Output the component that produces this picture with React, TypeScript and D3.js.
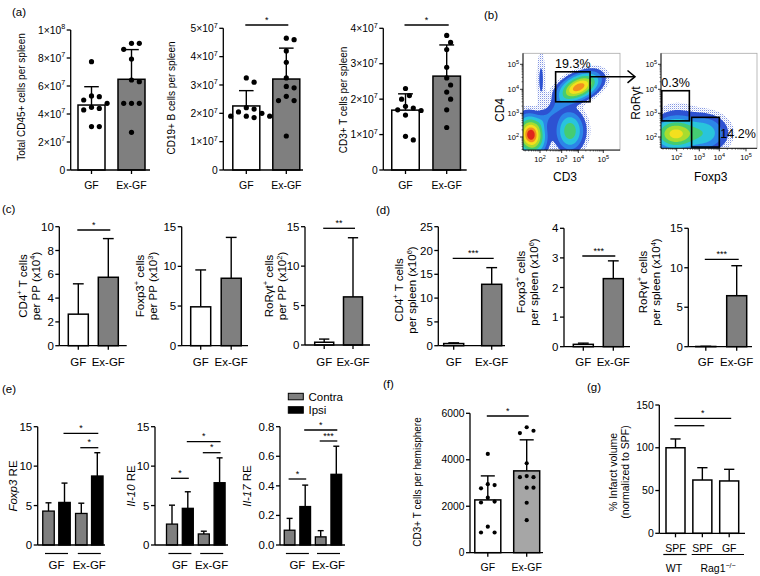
import React from "react";
import * as d3 from "d3";

const FONT = "'Liberation Sans', Arial, Helvetica, sans-serif";
const GRAY = "#7f7f7f";
const LIGHTGRAY = "#a6a6a6";

// ================= DATA =================
const cats2 = ["GF", "Ex-GF"];

// (a) spleen counts
const aTotalMean = [4.64e7, 6.48e7];
const aTotalSD = [1.31e7, 2.12e7];
const aTotalGF = [7.74e7, 5.24e7, 5.29e7, 5.0e7, 4.76e7, 4.48e7, 4.29e7, 4.4e7, 3.1e7, 3.1e7];
const aTotalEx = [9.05e7, 9.05e7, 8.62e7, 7.93e7, 6.43e7, 6.31e7, 4.76e7, 4.76e7, 4.76e7, 2.69e7];
const aTicks1 = [0, 2e7, 4e7, 6e7, 8e7, 1e8];

const aBMean = [2.26e7, 3.21e7];
const aBSD = [0.54e7, 1.09e7];
const aBGF = [3.1e7, 3.25e7, 2.2e7, 2.15e7, 2.0e7, 1.9e7, 1.9e7, 1.85e7, 1.9e7, 2.05e7];
const aBEx = [4.6e7, 4.65e7, 4.2e7, 3.8e7, 3.25e7, 2.9e7, 2.95e7, 2.6e7, 2.45e7, 2.45e7, 1.2e7];
const aTicks2 = [0, 1e7, 2e7, 3e7, 4e7, 5e7];

const aTMean = [1.69e7, 2.65e7];
const aTSD = [0.46e7, 0.88e7];
const aTGF = [2.3e7, 2.1e7, 2.0e7, 1.8e7, 1.75e7, 1.68e7, 1.7e7, 1.55e7, 0.85e7, 0.95e7];
const aTEx = [3.8e7, 3.6e7, 3.4e7, 2.9e7, 2.6e7, 2.4e7, 2.2e7, 2.0e7, 1.7e7, 1.2e7];
const aTicks3 = [0, 1e7, 2e7, 3e7, 4e7];

// (b) flow cytometry populations (log10 units) and gates
const flowCD3CD4 = [
  { x: 1.68, y: 2.08, sx: 0.33, sy: 0.45, angle: -10, w: 1.0 },
  { x: 3.5, y: 2.25, sx: 0.34, sy: 0.48, angle: 0, w: 0.42 },
  { x: 4.03, y: 4.09, sx: 0.52, sy: 0.28, angle: -25, w: 0.88 },
  { x: 2.55, y: 3.05, sx: 1.1, sy: 0.2, angle: -45, w: 0.1 },
  { x: 2.05, y: 4.4, sx: 0.13, sy: 0.8, angle: 0, w: 0.06 },
  { x: 2.8, y: 2.4, sx: 1.3, sy: 0.7, angle: 0, w: 0.012 },
];
const flowFoxRor = [
  { x: 1.935, y: 2.13, sx: 0.52, sy: 0.38, angle: 0, w: 0.68 },
  { x: 3.24, y: 2.17, sx: 0.55, sy: 0.45, angle: 0, w: 0.26 },
  { x: 2.0, y: 3.05, sx: 0.6, sy: 0.4, angle: 0, w: 0.03 },
  { x: 2.6, y: 2.1, sx: 1.0, sy: 0.5, angle: 0, w: 0.03 },
];
const gateCD4T = { x0: 2.72, x1: 4.47, y0: 3.48, y1: 4.7, label: "19.3%" };
const gateRor = { x0: 1.43, x1: 2.56, y0: 2.68, y1: 3.94, label: "0.3%" };
const gateFox = { x0: 2.66, x1: 4.0, y0: 1.6, y1: 2.83, label: "14.2%" };
const logTicks = [2, 3, 4, 5];

// (c) Peyer's patches
const cCD4Mean = [2.65, 5.75];
const cCD4SD = [2.55, 3.25];
const cFoxMean = [4.9, 8.5];
const cFoxSD = [4.65, 5.15];
const cRorMean = [0.35, 6.1];
const cRorSD = [0.4, 7.5];

// (d) spleen
const dCD4Mean = [0.45, 12.9];
const dCD4SD = [0.15, 3.5];
const dFoxMean = [0.08, 2.3];
const dFoxSD = [0.04, 0.6];
const dRorMean = [0.03, 6.46];
const dRorSD = [0.02, 3.8];

// (e) RE, Contra / Ipsi
const eSeries = ["Contra", "Ipsi"];
const eFoxContra = [4.3, 4.0];
const eFoxContraSD = [1.05, 1.3];
const eFoxIpsi = [5.4, 8.75];
const eFoxIpsiSD = [2.45, 2.95];
const eIl10Contra = [2.65, 1.4];
const eIl10ContraSD = [2.4, 0.35];
const eIl10Ipsi = [4.65, 7.9];
const eIl10IpsiSD = [2.1, 3.15];
const eIl17Contra = [0.1, 0.055];
const eIl17ContraSD = [0.08, 0.042];
const eIl17Ipsi = [0.26, 0.478];
const eIl17IpsiSD = [0.145, 0.19];

// (f) CD3+ T cells per hemisphere
const fMean = [2272, 3522];
const fSD = [1034, 1336];
const fGF = [4250, 2950, 2770, 2910, 2370, 2160, 2200, 1120, 870, 870];
const fEx = [5250, 5150, 5400, 3850, 3250, 3300, 3250, 2800, 2800, 2150, 1400];

// (g) infarct volume
const gCats = ["SPF", "SPF", "GF"];
const gMean = [100, 62.3, 61.2];
const gSD = [10.3, 14.4, 13.6];

// ================= HELPERS =================
function sciTick(v: number, fs: number) {
  if (v === 0) return <tspan>0</tspan>;
  const k = Math.floor(Math.log10(v) + 1e-9);
  const m = Math.round(v / Math.pow(10, k));
  return (
    <>
      <tspan>{`${m}×10`}</tspan>
      <tspan dy={-fs * 0.42} fontSize={fs * 0.7}>{k}</tspan>
    </>
  );
}

function swarm(vals: number[], y: (v: number) => number, cx: number, r: number, gap: number) {
  const D = 2 * r + gap;
  const placed: { x: number; y: number }[] = [];
  const order = vals.map((v) => ({ v, py: y(v) })).sort((a, b) => a.py - b.py);
  for (const p of order) {
    for (let k = 0; k < 60; k++) {
      const off = k === 0 ? 0 : (k % 2 === 1 ? 1 : -1) * Math.ceil(k / 2) * (D / 2);
      const px = cx + off;
      if (placed.every((q) => Math.hypot(q.x - px, q.y - p.py) >= D - 0.01)) {
        placed.push({ x: px, y: p.py });
        break;
      }
    }
  }
  return placed;
}

type Sig = { i: number; j: number; y: number; label: string };

function YLabel({ x, y, fs, lines }: { x: number; y: number; fs: number; lines: React.ReactNode[] }) {
  return (
    <>
      {lines.map((l, k) => (
        <text key={k} transform={`translate(${x + k * fs * 1.15},${y}) rotate(-90)`} textAnchor="middle" fontSize={fs}>
          {l}
        </text>
      ))}
    </>
  );
}

function BarChart(props: {
  cats: string[];
  means: number[];
  sds: number[];
  fills: string[];
  dots?: number[][];
  r?: number;
  axisX: number;
  axisEnd: number;
  y0: number;
  yTop: number;
  yMax: number;
  ticks: number[];
  fmt: (v: number, fs: number) => React.ReactNode;
  tickFs: number;
  c0: number;
  c1: number;
  barW: number;
  catY: number;
  catFs: number;
  sig?: Sig[];
  sigFs?: number;
  showCats?: boolean;
}) {
  const p = props;
  const y = d3.scaleLinear().domain([0, p.yMax]).range([p.y0, p.yTop]);
  const x = d3.scalePoint<number>().domain(p.cats.map((_, i) => i)).range([p.c0, p.c1]);
  const r = p.r ?? 2.5;
  return (
    <g>
      {p.means.map((m, i) => {
        const cx = x(i)!;
        const top = y(m);
        const et = y(m + p.sds[i]);
        return (
          <g key={i}>
            <line x1={cx} x2={cx} y1={et} y2={top} stroke="#000" strokeWidth={1.4} />
            <line x1={cx - p.barW * 0.27} x2={cx + p.barW * 0.27} y1={et} y2={et} stroke="#000" strokeWidth={1.4} />
            <rect x={cx - p.barW / 2} y={top} width={p.barW} height={p.y0 - top} fill={p.fills[i]} stroke="#000" strokeWidth={1.5} />
          </g>
        );
      })}
      {p.dots &&
        p.dots.map((ds, i) =>
          swarm(ds, y, x(i)!, r, 2.6).map((pt, k) => <circle key={`${i}-${k}`} cx={pt.x} cy={pt.y} r={r} fill="#000" />)
        )}
      <line x1={p.axisX} x2={p.axisX} y1={p.y0} y2={y(p.yMax)} stroke="#000" strokeWidth={1.3} />
      <line x1={p.axisX} x2={p.axisEnd} y1={p.y0} y2={p.y0} stroke="#000" strokeWidth={1.3} />
      {p.ticks.map((t) => (
        <g key={t}>
          <line x1={p.axisX - 4} x2={p.axisX} y1={y(t)} y2={y(t)} stroke="#000" strokeWidth={1.3} />
          <text x={p.axisX - 5.5} y={y(t)} dy="0.35em" textAnchor="end" fontSize={p.tickFs}>
            {p.fmt(t, p.tickFs)}
          </text>
        </g>
      ))}
      {p.cats.map((c, i) => (
        <g key={i}>
          <line x1={x(i)!} x2={x(i)!} y1={p.y0} y2={p.y0 + 4} stroke="#000" strokeWidth={1.3} />
          {p.showCats !== false && (
            <text x={x(i)!} y={p.catY} textAnchor="middle" fontSize={p.catFs}>
              {c}
            </text>
          )}
        </g>
      ))}
      {(p.sig || []).map((s, k) => {
        const xa = x(s.i)! + (s.i === 0 ? -1 : 0);
        const xb = x(s.j)! + 2;
        return (
          <g key={k}>
            <line x1={xa} x2={xb} y1={s.y} y2={s.y} stroke="#000" strokeWidth={1.3} />
            <text x={(xa + xb) / 2} y={s.y - 2.5} textAnchor="middle" fontSize={p.sigFs ?? 9}>
              {s.label}
            </text>
          </g>
        );
      })}
    </g>
  );
}

function GroupedChart(props: {
  contra: number[];
  contraSD: number[];
  ipsi: number[];
  ipsiSD: number[];
  axisX: number;
  axisEnd: number;
  y0: number;
  yTop: number;
  yMax: number;
  ticks: number[];
  fmt: (v: number) => string;
  g0: number;
  g1: number;
  off: number;
  barW: number;
  sig: { a: [number, number]; b: [number, number]; y: number; label: string }[];
}) {
  const p = props;
  const y = d3.scaleLinear().domain([0, p.yMax]).range([p.y0, p.yTop]);
  const gx = d3.scalePoint<string>().domain(cats2).range([p.g0, p.g1]);
  const sx = d3.scalePoint<string>().domain(eSeries).range([-p.off, p.off]);
  const series = [
    { name: eSeries[0], vals: p.contra, sds: p.contraSD, fill: GRAY },
    { name: eSeries[1], vals: p.ipsi, sds: p.ipsiSD, fill: "#000" },
  ];
  const bx = (g: number, s: number) => gx(cats2[g])! + sx(eSeries[s])!;
  return (
    <g>
      {series.map((s, si) =>
        s.vals.map((v, gi) => {
          const cx = bx(gi, si);
          const top = y(v);
          const et = y(v + s.sds[gi]);
          return (
            <g key={`${si}-${gi}`}>
              <line x1={cx} x2={cx} y1={et} y2={top} stroke="#000" strokeWidth={1.4} />
              <line x1={cx - 3} x2={cx + 3} y1={et} y2={et} stroke="#000" strokeWidth={1.4} />
              <rect x={cx - p.barW / 2} y={top} width={p.barW} height={p.y0 - top} fill={s.fill} stroke="#000" strokeWidth={1.3} />
            </g>
          );
        })
      )}
      <line x1={p.axisX} x2={p.axisX} y1={p.y0} y2={y(p.yMax)} stroke="#000" strokeWidth={1.3} />
      <line x1={p.axisX} x2={p.axisEnd} y1={p.y0} y2={p.y0} stroke="#000" strokeWidth={1.3} />
      {p.ticks.map((t) => (
        <g key={t}>
          <line x1={p.axisX - 4} x2={p.axisX} y1={y(t)} y2={y(t)} stroke="#000" strokeWidth={1.3} />
          <text x={p.axisX - 5.5} y={y(t)} dy="0.35em" textAnchor="end" fontSize={11.5}>
            {p.fmt(t)}
          </text>
        </g>
      ))}
      {cats2.map((c) => (
        <g key={c}>
          <line x1={gx(c)! - 11.5} x2={gx(c)! + 11.5} y1={p.y0 + 8.5} y2={p.y0 + 8.5} stroke="#000" strokeWidth={1.2} />
          <text x={gx(c)!} y={p.y0 + 23.5} textAnchor="middle" fontSize={11.5}>
            {c}
          </text>
        </g>
      ))}
      {p.sig.map((s, k) => {
        const xa = bx(s.a[0], s.a[1]) - 1;
        const xb = bx(s.b[0], s.b[1]) + 1;
        return (
          <g key={k}>
            <line x1={xa} x2={xb} y1={s.y} y2={s.y} stroke="#000" strokeWidth={1.3} />
            <text x={(xa + xb) / 2} y={s.y - 2.5} textAnchor="middle" fontSize={9}>
              {s.label}
            </text>
          </g>
        );
      })}
    </g>
  );
}

type Cluster = { x: number; y: number; sx: number; sy: number; angle: number; w: number };
const FLOW_LEVELS = [0.02, 0.05, 0.11, 0.2, 0.33, 0.48, 0.64, 0.8, 0.93];
const FLOW_COLORS = ["#3b5ad6", "#2d52d2", "#2c86e8", "#29c4dc", "#45cc72", "#a9dc2e", "#f4e01e", "#f2901e", "#e0261a"];

function FlowPlot(props: {
  id: string;
  left: number;
  top: number;
  right: number;
  bottom: number;
  xDom: number[];
  xRange: number[];
  yDom: number[];
  yRange: number[];
  clusters: Cluster[];
  gates: { x0: number; x1: number; y0: number; y1: number }[];
}) {
  const p = props;
  const xs = d3.scaleLinear().domain(p.xDom).range(p.xRange);
  const ys = d3.scaleLinear().domain(p.yDom).range(p.yRange);
  const nx = Math.round(p.right - p.left);
  const ny = Math.round(p.bottom - p.top);
  const PX = 23;
  const cs = p.clusters.map((c) => ({
    cx: xs(c.x),
    cy: ys(c.y),
    sx: c.sx * PX,
    sy: c.sy * PX,
    ca: Math.cos((c.angle * Math.PI) / 180),
    sa: Math.sin((c.angle * Math.PI) / 180),
    w: c.w,
  }));
  const vals = new Float64Array(nx * ny);
  for (let j = 0; j < ny; j++) {
    for (let i = 0; i < nx; i++) {
      const px = p.left + i + 0.5;
      const py = p.top + j + 0.5;
      let s = 0;
      for (const c of cs) {
        const dx = px - c.cx;
        const dy = py - c.cy;
        const u = dx * c.ca + dy * c.sa;
        const v = -dx * c.sa + dy * c.ca;
        s += c.w * Math.exp(-0.5 * ((u * u) / (c.sx * c.sx) + (v * v) / (c.sy * c.sy)));
      }
      vals[j * nx + i] = s;
    }
  }
  const contours = d3.contours().size([nx, ny]).thresholds(FLOW_LEVELS)(Array.from(vals));
  const path = d3.geoPath(d3.geoIdentity().translate([p.left, p.top]) as any);
  const minor: number[] = [];
  for (let d = Math.ceil(p.xDom[0]) - 1; d < 5; d++) for (let m = 2; m < 10; m++) minor.push(d + Math.log10(m));
  const minorY: number[] = [];
  for (let d = Math.ceil(p.yDom[0]) - 1; d < 5; d++) for (let m = 2; m < 10; m++) minorY.push(d + Math.log10(m));
  return (
    <g>
      <defs>
        <clipPath id={`clip-${p.id}`}>
          <rect x={p.left} y={p.top} width={nx} height={ny} />
        </clipPath>
        <pattern id={`speck-${p.id}`} width={2} height={2} patternUnits="userSpaceOnUse">
          <rect x={0} y={0} width={1} height={1} fill="#2f4fd0" />
          <rect x={1} y={1} width={0.6} height={0.6} fill="#6f88e4" />
        </pattern>
      </defs>
      <rect x={p.left} y={p.top} width={nx} height={ny} fill="#fff" stroke="#aaa" strokeWidth={0.8} />
      <g clipPath={`url(#clip-${p.id})`}>
        {contours.map((c, k) => (
          <path key={k} d={path(c as any) || ""} fill={k === 0 ? `url(#speck-${p.id})` : FLOW_COLORS[k]} fillOpacity={k === 0 ? 0.6 : 1} />
        ))}
      </g>
      {p.gates.map((g, k) => (
        <rect key={k} x={xs(g.x0)} y={ys(g.y1)} width={xs(g.x1) - xs(g.x0)} height={ys(g.y0) - ys(g.y1)} fill="none" stroke="#000" strokeWidth={1.6} />
      ))}
      <line x1={p.left} x2={p.left} y1={p.top} y2={p.bottom} stroke="#000" strokeWidth={0.9} />
      <line x1={p.left} x2={p.right} y1={p.bottom} y2={p.bottom} stroke="#000" strokeWidth={0.9} />
      {minor
        .filter((v) => xs(v) > p.left && xs(v) < p.right)
        .map((v, k) => (
          <line key={`mx${k}`} x1={xs(v)} x2={xs(v)} y1={p.bottom} y2={p.bottom + 1.5} stroke="#000" strokeWidth={0.5} />
        ))}
      {minorY
        .filter((v) => ys(v) > p.top && ys(v) < p.bottom)
        .map((v, k) => (
          <line key={`my${k}`} x1={p.left - 1.5} x2={p.left} y1={ys(v)} y2={ys(v)} stroke="#000" strokeWidth={0.5} />
        ))}
      {logTicks.map((t) => (
        <g key={t}>
          <line x1={xs(t)} x2={xs(t)} y1={p.bottom} y2={p.bottom + 3} stroke="#000" strokeWidth={0.8} />
          <text x={xs(t)} y={p.bottom + 12} textAnchor="middle" fontSize={7.5}>
            10<tspan dy={-3} fontSize={5.5}>{t}</tspan>
          </text>
          <line x1={p.left - 3} x2={p.left} y1={ys(t)} y2={ys(t)} stroke="#000" strokeWidth={0.8} />
          <text x={p.left - 4} y={ys(t) + 2.5} textAnchor="end" fontSize={7.5}>
            10<tspan dy={-3} fontSize={5.5}>{t}</tspan>
          </text>
        </g>
      ))}
    </g>
  );
}

const sup = (s: string, fs: number) => (
  <tspan dy={-fs * 0.4} fontSize={fs * 0.65}>
    {s}
  </tspan>
);
const down = (s: string, fs: number) => <tspan dy={fs * 0.4}>{s}</tspan>;

export default function App() {
  const leftFlow = {
    xDom: [1.4, 2, 3, 4, 5, 5.6],
    xRange: [523, 540, 561.7, 578.3, 603.3, 620],
    yDom: [1.45, 2, 3, 4, 5, 5.45],
    yRange: [150, 137, 113.3, 89.3, 64.3, 53.3],
  };
  const rightFlow = {
    xDom: [1.4, 2, 3, 4, 5, 5.4],
    xRange: [661, 676.7, 699.3, 719.3, 746, 757],
    yDom: [1.55, 2, 3, 4, 5, 5.45],
    yRange: [148.3, 137, 113.3, 89.3, 64.3, 53.3],
  };
  const lxs = d3.scaleLinear().domain(leftFlow.xDom).range(leftFlow.xRange);
  const lys = d3.scaleLinear().domain(leftFlow.yDom).range(leftFlow.yRange);
  const rxs = d3.scaleLinear().domain(rightFlow.xDom).range(rightFlow.xRange);
  const rys = d3.scaleLinear().domain(rightFlow.yDom).range(rightFlow.yRange);
  const fmtInt = (v: number) => <tspan>{d3.format("d")(v)}</tspan>;
  const fs2 = 11.5;

  return (
    <svg width={760} height={576} style={{ position: "absolute", left: 0, top: 0, background: "#fff" }} fontFamily={FONT}>
      <rect x={0} y={0} width={760} height={576} fill="#fff" />
      <g fontSize={11.5}>
        <text x={12} y={16}>(a)</text>
        <text x={484} y={19}>(b)</text>
        <text x={2} y={213}>(c)</text>
        <text x={376} y={214}>(d)</text>
        <text x={2} y={393}>(e)</text>
        <text x={383} y={388}>(f)</text>
        <text x={587} y={391}>(g)</text>
      </g>

      {/* ===== (a) ===== */}
      <BarChart cats={cats2} means={aTotalMean} sds={aTotalSD} fills={["#fff", GRAY]} dots={[aTotalGF, aTotalEx]} r={2.6}
        axisX={70.7} axisEnd={150} y0={170} yTop={30} yMax={1e8} ticks={aTicks1} fmt={sciTick} tickFs={10.3}
        c0={91.5} c1={131.5} barW={27} catY={189} catFs={10.5} />
      <YLabel x={25} y={97} fs={10} lines={["Total CD45+ cells per spleen"]} />

      <BarChart cats={cats2} means={aBMean} sds={aBSD} fills={["#fff", GRAY]} dots={[aBGF, aBEx]} r={2.6}
        axisX={223.3} axisEnd={303} y0={170} yTop={28.3} yMax={5e7} ticks={aTicks2} fmt={sciTick} tickFs={10.3}
        c0={246.3} c1={286.3} barW={27} catY={189} catFs={10.5}
        sig={[{ i: 0, j: 1, y: 25, label: "*" }]} />
      <YLabel x={175} y={98} fs={10} lines={["CD19+ B cells per spleen"]} />

      <BarChart cats={cats2} means={aTMean} sds={aTSD} fills={["#fff", GRAY]} dots={[aTGF, aTEx]} r={2.6}
        axisX={383.3} axisEnd={466.7} y0={170} yTop={28.3} yMax={4e7} ticks={aTicks3} fmt={sciTick} tickFs={10.3}
        c0={405.5} c1={446.7} barW={27.5} catY={189} catFs={10.5}
        sig={[{ i: 0, j: 1, y: 25, label: "*" }]} />
      <YLabel x={347} y={100} fs={10} lines={["CD3+ T cells per spleen"]} />

      {/* ===== (b) ===== */}
      <FlowPlot id="l" left={523} top={53.3} right={620} bottom={150} {...leftFlow} clusters={flowCD3CD4} gates={[gateCD4T]} />
      <text x={(lxs(gateCD4T.x0) + lxs(gateCD4T.x1)) / 2} y={lys(gateCD4T.y1) - 4} textAnchor="middle" fontSize={12.5}>
        {gateCD4T.label}
      </text>
      <line x1={lxs(gateCD4T.x1)} x2={634} y1={76.7} y2={76.7} stroke="#000" strokeWidth={1.5} />
      <path d="M627.5,70.5 L635,76.7 L627.5,82.9" fill="none" stroke="#000" strokeWidth={1.5} />
      <text x={565} y={181} textAnchor="middle" fontSize={12}>CD3</text>
      <text transform="translate(504,110) rotate(-90)" textAnchor="middle" fontSize={12}>CD4</text>

      <FlowPlot id="r" left={661} top={53.3} right={757} bottom={148.3} {...rightFlow} clusters={flowFoxRor} gates={[gateRor, gateFox]} />
      <text x={rxs(gateRor.x0) - 0.5} y={rys(gateRor.y1) - 4} fontSize={12.5}>{gateRor.label}</text>
      <text x={rxs(gateFox.x1) + 1} y={137.5} fontSize={12.5}>{gateFox.label}</text>
      <text x={710.7} y={181} textAnchor="middle" fontSize={12}>Foxp3</text>
      <text transform="translate(640,103) rotate(-90)" textAnchor="middle" fontSize={12}>RoRγt</text>

      {/* ===== (c) ===== */}
      <BarChart cats={cats2} means={cCD4Mean} sds={cCD4SD} fills={["#fff", GRAY]}
        axisX={59.3} axisEnd={126.7} y0={345.7} yTop={226.7} yMax={10} ticks={[0, 2, 4, 6, 8, 10]} fmt={fmtInt} tickFs={fs2}
        c0={78.3} c1={108.3} barW={20} catY={366} catFs={fs2}
        sig={[{ i: 0, j: 1, y: 230, label: "*" }]} />
      <YLabel x={26.5} y={286} fs={fs2} lines={[<>CD4{sup("+", fs2)}{down(" T cells", fs2)}</>, <>per PP (x10{sup("4", fs2)}{down(")", fs2)}</>]} />

      <BarChart cats={cats2} means={cFoxMean} sds={cFoxSD} fills={["#fff", GRAY]}
        axisX={181.7} axisEnd={248} y0={345.7} yTop={226.7} yMax={15} ticks={[0, 5, 10, 15]} fmt={fmtInt} tickFs={fs2}
        c0={200.7} c1={231.2} barW={20} catY={366} catFs={fs2} />
      <YLabel x={144} y={286} fs={fs2} lines={[<>Foxp3{sup("+", fs2)}{down(" cells", fs2)}</>, <>per PP (x10{sup("3", fs2)}{down(")", fs2)}</>]} />

      <BarChart cats={cats2} means={cRorMean} sds={cRorSD} fills={["#fff", GRAY]}
        axisX={305} axisEnd={370} y0={345} yTop={226.7} yMax={15} ticks={[0, 5, 10, 15]} fmt={fmtInt} tickFs={fs2}
        c0={324.2} c1={353} barW={19} catY={366} catFs={fs2}
        sig={[{ i: 0, j: 1, y: 228.3, label: "**" }]} />
      <YLabel x={273} y={286} fs={fs2} lines={[<>RoRγt{sup("+", fs2)}{down(" cells", fs2)}</>, <>per PP (x10{sup("2", fs2)}{down(")", fs2)}</>]} />

      {/* ===== (d) ===== */}
      <BarChart cats={cats2} means={dCD4Mean} sds={dCD4SD} fills={["#fff", GRAY]}
        axisX={438.3} axisEnd={505} y0={345.7} yTop={226.7} yMax={25} ticks={[0, 5, 10, 15, 20, 25]} fmt={fmtInt} tickFs={fs2}
        c0={453.7} c1={491.7} barW={20} catY={366} catFs={fs2}
        sig={[{ i: 0, j: 1, y: 258.3, label: "***" }]} />
      <YLabel x={403} y={290} fs={fs2} lines={[<>CD4{sup("+", fs2)}{down(" T cells", fs2)}</>, <>per spleen (x10{sup("6", fs2)}{down(")", fs2)}</>]} />

      <BarChart cats={cats2} means={dFoxMean} sds={dFoxSD} fills={["#fff", GRAY]}
        axisX={564} axisEnd={630} y0={346.7} yTop={228.3} yMax={4} ticks={[0, 1, 2, 3, 4]} fmt={fmtInt} tickFs={fs2}
        c0={583.3} c1={613.3} barW={20} catY={366} catFs={fs2}
        sig={[{ i: 0, j: 1, y: 256, label: "***" }]} />
      <YLabel x={525} y={282} fs={fs2} lines={[<>Foxp3{sup("+", fs2)}{down(" cells", fs2)}</>, <>per spleen (x10{sup("6", fs2)}{down(")", fs2)}</>]} />

      <BarChart cats={cats2} means={dRorMean} sds={dRorSD} fills={["#fff", GRAY]}
        axisX={688.3} axisEnd={752} y0={346.7} yTop={228.3} yMax={15} ticks={[0, 5, 10, 15]} fmt={fmtInt} tickFs={fs2}
        c0={705.8} c1={736.7} barW={20} catY={366} catFs={fs2}
        sig={[{ i: 0, j: 1, y: 259.3, label: "***" }]} />
      <YLabel x={647} y={282} fs={fs2} lines={[<>RoRγt{sup("+", fs2)}{down(" cells", fs2)}</>, <>per spleen (x10{sup("4", fs2)}{down(")", fs2)}</>]} />

      {/* ===== (e) ===== */}
      <g>
        <rect x={288.3} y={393.3} width={15} height={6.5} fill={GRAY} stroke="#000" strokeWidth={1} />
        <text x={308.5} y={400.5} fontSize={fs2}>{eSeries[0]}</text>
        <rect x={288.3} y={406.7} width={15} height={6.5} fill="#000" stroke="#000" strokeWidth={1} />
        <text x={308.5} y={414} fontSize={fs2}>{eSeries[1]}</text>
      </g>
      <GroupedChart contra={eFoxContra} contraSD={eFoxContraSD} ipsi={eFoxIpsi} ipsiSD={eFoxIpsiSD}
        axisX={37.7} axisEnd={105} y0={545} yTop={426.7} yMax={15} ticks={[0, 5, 10, 15]} fmt={d3.format("d")}
        g0={56.5} g1={89.3} off={8} barW={11.5}
        sig={[{ a: [0, 1], b: [1, 1], y: 433.3, label: "*" }, { a: [1, 0], b: [1, 1], y: 447.7, label: "*" }]} />
      <text transform="translate(17,486) rotate(-90)" textAnchor="middle" fontSize={fs2}>
        <tspan fontStyle="italic">Foxp3</tspan> RE
      </text>

      <GroupedChart contra={eIl10Contra} contraSD={eIl10ContraSD} ipsi={eIl10Ipsi} ipsiSD={eIl10IpsiSD}
        axisX={155} axisEnd={228} y0={545} yTop={426.7} yMax={15} ticks={[0, 5, 10, 15]} fmt={d3.format("d")}
        g0={179.9} g1={211.7} off={7.9} barW={11}
        sig={[{ a: [0, 0], b: [0, 1], y: 478.3, label: "*" }, { a: [0, 1], b: [1, 1], y: 441.7, label: "*" }, { a: [1, 0], b: [1, 1], y: 452.7, label: "*" }]} />
      <text transform="translate(135,486) rotate(-90)" textAnchor="middle" fontSize={fs2}>
        <tspan fontStyle="italic">Il-10</tspan> RE
      </text>

      <GroupedChart contra={eIl17Contra} contraSD={eIl17ContraSD} ipsi={eIl17Ipsi} ipsiSD={eIl17IpsiSD}
        axisX={280} axisEnd={345} y0={545} yTop={426.7} yMax={0.8} ticks={[0, 0.2, 0.4, 0.6, 0.8]} fmt={d3.format(".1f")}
        g0={297.4} g1={328.5} off={7.8} barW={10.7}
        sig={[{ a: [0, 0], b: [0, 1], y: 479, label: "*" }, { a: [0, 1], b: [1, 1], y: 430, label: "*" }, { a: [1, 0], b: [1, 1], y: 441, label: "***" }]} />
      <text transform="translate(251,486) rotate(-90)" textAnchor="middle" fontSize={fs2}>
        <tspan fontStyle="italic">Il-17</tspan> RE
      </text>

      {/* ===== (f) ===== */}
      <BarChart cats={cats2} means={fMean} sds={fSD} fills={["#fff", LIGHTGRAY]} dots={[fGF, fEx]} r={2.1}
        axisX={470} axisEnd={543} y0={552.7} yTop={413.3} yMax={6000} ticks={[0, 2000, 4000, 6000]} fmt={fmtInt} tickFs={10.3}
        c0={487.8} c1={526.7} barW={26} catY={571} catFs={10.5}
        sig={[{ i: 0, j: 1, y: 416, label: "*" }]} />
      <YLabel x={421} y={482} fs={10} lines={["CD3+ T cells per hemisphere"]} />

      {/* ===== (g) ===== */}
      <BarChart cats={gCats} means={gMean} sds={gSD} fills={["#fff", "#fff", "#fff"]}
        axisX={659.3} axisEnd={745} y0={533.3} yTop={405} yMax={150} ticks={[0, 50, 100, 150]} fmt={fmtInt} tickFs={10.5}
        c0={675.5} c1={729.2} barW={19} catY={552} catFs={10.5}
        sig={[{ i: 0, j: 2, y: 418.3, label: "*" }, { i: 0, j: 1, y: 425.7, label: "" }]} />
      <line x1={663.3} x2={686.7} y1={554.5} y2={554.5} stroke="#000" strokeWidth={1.2} />
      <line x1={691.7} x2={744} y1={554.5} y2={554.5} stroke="#000" strokeWidth={1.2} />
      <text x={674} y={572} textAnchor="middle" fontSize={10.5}>WT</text>
      <text x={718} y={572} textAnchor="middle" fontSize={10.5}>
        Rag1<tspan dy={-4} fontSize={7}>−/−</tspan>
      </text>
      <YLabel x={616.5} y={472} fs={10.5} lines={["% Infarct volume", "(normalized to SPF)"]} />
    </svg>
  );
}
